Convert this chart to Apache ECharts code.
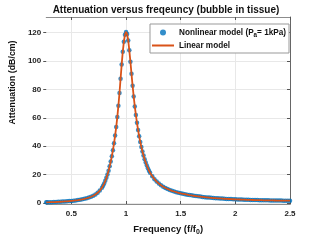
<!DOCTYPE html>
<html><head><meta charset="utf-8">
<script src="https://cdn.jsdelivr.net/npm/echarts@6/dist/echarts.min.js"></script>
<style>html,body{margin:0;padding:0;background:#fff}#c{width:321px;height:241px}</style>
</head><body><div id="c"></div>
<script>
const freq = [
  0.27,0.28,0.30,0.32,0.34,0.36,0.38,0.40,0.42,0.44,0.46,0.48,0.50,0.52,0.54,0.56,0.58,0.60,0.62,0.64,0.66,0.68,0.70,0.72,0.74,0.76,0.78,
  0.79,0.80,0.81,0.82,0.83,0.84,0.85,0.86,0.87,0.88,0.89,0.90,0.91,0.92,0.93,0.94,0.95,0.96,0.97,0.98,0.99,
  1.00,1.01,1.02,1.03,1.04,1.05,1.06,1.07,1.08,1.09,1.10,1.11,1.12,1.13,1.14,1.15,1.16,1.17,1.18,1.19,1.20,1.21,
  1.22,1.24,1.26,1.28,1.30,1.32,1.34,1.36,1.38,1.40,1.42,1.44,1.46,1.48,1.50,1.52,1.54,1.56,1.58,1.60,
  1.62,1.64,1.66,1.68,1.70,1.72,1.74,1.76,1.78,1.80,1.82,1.84,1.86,1.88,1.90,1.92,1.94,1.96,1.98,2.00,
  2.02,2.04,2.06,2.08,2.10,2.12,2.14,2.16,2.18,2.20,2.22,2.24,2.26,2.28,2.30,2.32,2.34,2.36,2.38,2.40,
  2.42,2.44,2.46,2.48,2.50
];
const nonlinearModel = [
  0.5,0.5,0.55,0.6,0.65,0.7,0.8,0.9,1.0,1.1,1.2,1.35,1.5,1.65,1.85,2.05,2.3,2.6,2.95,3.35,3.8,4.4,5.1,6.0,7.2,8.8,10.8,
  12.1,13.7,15.6,17.7,20.1,22.8,25.8,29.2,33.0,37.2,42.0,47.5,53.5,60.5,68.5,77.5,87.5,97.5,106.5,113.5,118.5,
  120.5,119,114.5,107.5,99.5,91,82.5,75,68,62,56.5,51.5,47,43,39.5,36.3,33.4,30.8,28.5,26.4,24.5,22.8,
  21.3,18.8,16.8,15.1,13.7,12.5,11.5,10.6,9.9,9.2,8.6,8.1,7.6,7.2,6.8,6.5,6.2,5.9,5.6,5.4,
  5.1,4.9,4.7,4.5,4.3,4.1,3.95,3.8,3.65,3.5,3.4,3.3,3.2,3.1,3.0,2.9,2.82,2.74,2.66,2.58,
  2.52,2.46,2.4,2.34,2.28,2.23,2.18,2.13,2.08,2.04,2.0,1.96,1.92,1.89,1.86,1.83,1.8,1.77,1.74,1.72,
  1.69,1.67,1.65,1.63,1.61
];
const linearModel = nonlinearModel.slice();
const xTicks = [0.5, 1, 1.5, 2, 2.5];
const yTicks = [0, 20, 40, 60, 80, 100, 120];

const FONT = '"Liberation Sans", Arial, sans-serif';
const chart = echarts.init(document.getElementById('c'), null, {renderer: 'canvas'});
const axisGray = '#8c8c8c';
const gridGray = '#e8e8e8';
const lineIcon = 'path://M0,0L0.01,0L0.01,0.01Z M0,2.1L22,2.1L22,3.9L0,3.9Z M0,6L0.01,6L0.01,5.99Z';

chart.setOption({
  animation: false,
  backgroundColor: '#fff',
  title: {
    text: 'Attenuation versus freqeuncy (bubble in tissue)',
    left: 166, top: 5, textAlign: 'center', padding: 0,
    textStyle: {fontFamily: FONT, fontSize: 10, fontWeight: 'bold', color: '#111'}
  },
  grid: {left: 42, right: 31, top: 17, bottom: 32, containLabel: false},
  legend: {
    orient: 'vertical', left: 150, top: 24,
    padding: [3, 3, 2, 2], itemGap: 2,
    itemWidth: 22, itemHeight: 6,
    backgroundColor: '#fff', borderColor: '#999', borderWidth: 1,
    textStyle: {
      fontFamily: FONT, fontSize: 8.2, fontWeight: 'bold', color: '#111', lineHeight: 11,
      rich: {
        n: {fontFamily: FONT, fontSize: 8.2, fontWeight: 'bold', color: '#111'},
        s: {fontFamily: FONT, fontSize: 6.3, fontWeight: 'bold', color: '#111', padding: [5, 0, 0, 0]}
      }
    },
    formatter: function (name) {
      if (name.indexOf('Nonlinear') === 0) return '{n|Nonlinear model (P}{s|a}{n|= 1kPa)}';
      return '{n|' + name + '}';
    },
    data: [
      {name: 'Nonlinear model (Pa= 1kPa)', icon: 'circle'},
      {name: 'Linear model', icon: lineIcon}
    ]
  },
  xAxis: [{
    type: 'value', min: 0.27, max: 2.5,
    name: '{a|Frequency (f/f}{b|0}{a|)}', nameLocation: 'middle', nameGap: 19,
    nameTextStyle: {
      rich: {
        a: {fontFamily: FONT, fontSize: 9.5, fontWeight: 'bold', color: '#111'},
        b: {fontFamily: FONT, fontSize: 7, fontWeight: 'bold', color: '#111', padding: [6, 0, 0, 0]}
      }
    },
    axisLine: {show: true, onZero: false, lineStyle: {color: axisGray, width: 1}},
    axisTick: {show: true, inside: true, length: 3, customValues: xTicks, lineStyle: {color: '#555'}},
    axisLabel: {customValues: xTicks, margin: 6, fontFamily: FONT, fontSize: 8, fontWeight: 'bold', color: '#222',
      formatter: v => String(v)},
    splitLine: {show: true, lineStyle: {color: gridGray, width: 1}}
  }, {
    type: 'value', position: 'top', min: 0.27, max: 2.5,
    axisLine: {show: true, onZero: false, lineStyle: {color: axisGray, width: 1}},
    axisTick: {show: true, inside: true, length: 3, customValues: xTicks, lineStyle: {color: '#555'}},
    axisLabel: {show: false}, splitLine: {show: false}
  }],
  yAxis: [{
    type: 'value', min: -0.7, max: 131,
    name: 'Attenuation (dB/cm)', nameLocation: 'middle', nameGap: 22,
    nameTextStyle: {fontFamily: FONT, fontSize: 8.8, fontWeight: 'bold', color: '#111', padding: [0, 0, 0, 56]},
    axisLine: {show: false, onZero: false},
    axisTick: {show: true, inside: false, length: 3, customValues: yTicks, lineStyle: {color: '#555'}},
    axisLabel: {customValues: yTicks, margin: 5, fontFamily: FONT, fontSize: 8, fontWeight: 'bold', color: '#222'},
    splitLine: {show: true, lineStyle: {color: gridGray, width: 1}}
  }, {
    type: 'value', position: 'right', min: -0.7, max: 131,
    axisLine: {show: true, onZero: false, lineStyle: {color: '#666', width: 1}},
    axisTick: {show: true, inside: true, length: 3, customValues: yTicks, lineStyle: {color: '#555'}},
    axisLabel: {show: false}, splitLine: {show: false}
  }],
  series: [{
    name: 'Nonlinear model (Pa= 1kPa)', type: 'scatter',
    symbol: 'circle', symbolSize: 4.5,
    itemStyle: {color: '#0072BD'},
    data: freq.map((f, i) => [f, nonlinearModel[i]]),
    z: 2
  }, {
    name: 'Linear model', type: 'line',
    symbol: 'none', showSymbol: false,
    lineStyle: {color: '#D95319', width: 1.8},
    itemStyle: {color: '#D95319'},
    data: freq.map((f, i) => [f, linearModel[i]]),
    z: 3
  }]
});
</script>
</body></html>
